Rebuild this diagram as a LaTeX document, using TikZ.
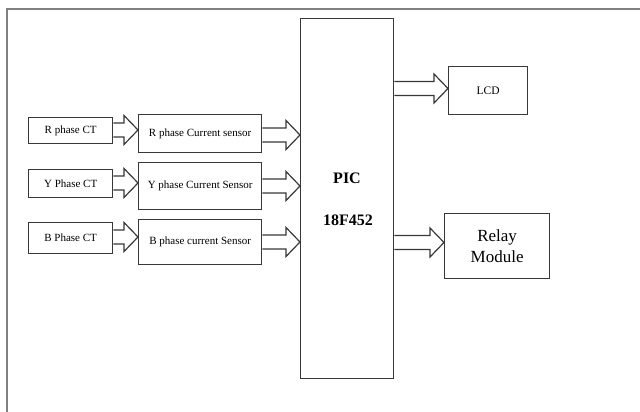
\documentclass[tikz,border=0pt]{standalone}
\usepackage{fontspec}
\setmainfont{Liberation Serif}
\begin{document}
\begin{tikzpicture}[x=1pt,y=-1pt,
  box/.style={draw=black!78,line width=1.3pt,inner sep=0pt,anchor=north west},
  frameline/.style={draw=black!50,line width=2pt},
  fat/.style={draw=black!78,line width=1.2pt,line join=miter},
  lbl/.style={font=\fontsize{11}{13}\selectfont}]
\useasboundingbox (0,0) rectangle (640,412);
\draw[frameline] (7,412) -- (7,9) -- (640,9);
% nodes
\node[box,minimum width=84pt,minimum height=26pt,lbl] (rct) at (28,117) {R phase CT};
\node[box,minimum width=84pt,minimum height=28pt,lbl] (yct) at (28,169) {Y Phase CT};
\node[box,minimum width=84pt,minimum height=31pt,lbl] (bct) at (28,222) {B Phase CT};
\node[box,minimum width=123pt,minimum height=38pt,lbl] (rs) at (138,114) {R phase Current sensor};
\node[box,minimum width=123pt,minimum height=47pt,lbl] (ys) at (138,162) {Y phase Current Sensor};
\node[box,minimum width=123pt,minimum height=45pt,lbl] (bs) at (138,219) {B phase current Sensor};
\node[box,minimum width=93pt,minimum height=360pt] (pic) at (300,18) {};
\node[font=\bfseries\fontsize{16}{18}\selectfont] (pict) at (347,178) {PIC};
\node[font=\bfseries\fontsize{16}{18}\selectfont] (pict2) at (348,220) {18F452};
\node[box,minimum width=79pt,minimum height=48pt,font=\fontsize{11.5}{13}\selectfont] (lcd) at (448,66) {LCD};
\node[box,minimum width=105pt,minimum height=65pt,align=center,font=\fontsize{17}{21}\selectfont] (relay) at (444,213) {Relay\\Module};
% block arrow macro: #1 from node, #2 to node, #3 y centre (px)
\newcommand\blockarrow[3]{%
  \path (#1.east |- 0,#3) coordinate (s) (#2.west |- 0,#3) coordinate (t);
  \draw[fat] ([yshift=7pt]s) -- ([xshift=-14pt,yshift=7pt]t) -- ([xshift=-14pt,yshift=14.5pt]t)
    -- (t) -- ([xshift=-14pt,yshift=-14.5pt]t) -- ([xshift=-14pt,yshift=-7pt]t) -- ([yshift=-7pt]s);}
\blockarrow{rct}{rs}{130}
\blockarrow{yct}{ys}{183}
\blockarrow{bct}{bs}{237}
\blockarrow{rs}{pic}{135}
\blockarrow{ys}{pic}{186}
\blockarrow{bs}{pic}{242}
\blockarrow{pic}{lcd}{88.5}
\blockarrow{pic}{relay}{242.5}
\end{tikzpicture}
\end{document}
